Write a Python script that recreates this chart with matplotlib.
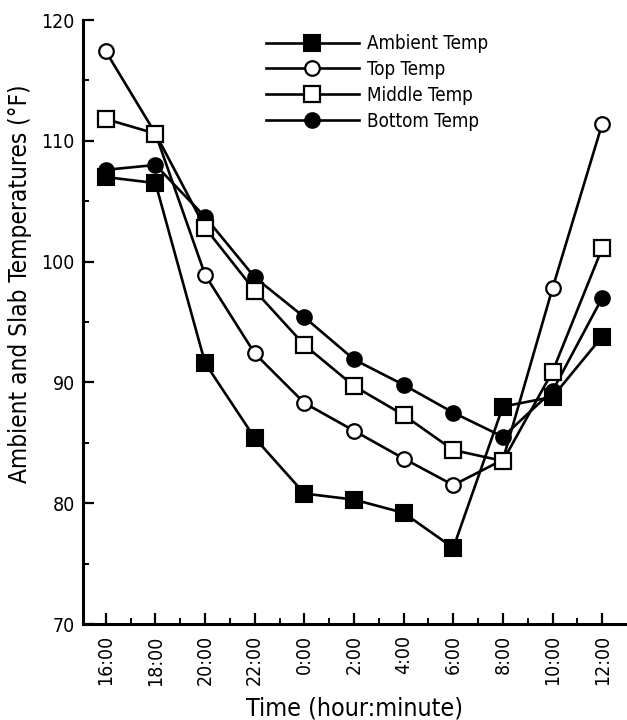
import matplotlib
matplotlib.use("Agg")
import matplotlib.pyplot as plt
import numpy as np
from matplotlib.ticker import FixedLocator

plt.rcParams['font.family'] = ['DejaVu Sans']
plt.rcParams['font.stretch'] = 'condensed'

# 測定時刻と温度 (°F)
times = ["16:00", "18:00", "20:00", "22:00", "0:00", "2:00",
         "4:00", "6:00", "8:00", "10:00", "12:00"]
ambient = [107.0, 106.5, 91.6, 85.4, 80.8, 80.3, 79.2, 76.3, 88.0, 88.8, 93.8]
top     = [117.4, 110.6, 98.9, 92.4, 88.3, 86.0, 83.7, 81.5, 83.6, 97.8, 111.4]
middle  = [111.8, 110.6, 102.8, 97.6, 93.1, 89.7, 87.3, 84.4, 83.5, 90.9, 101.1]
bottom  = [107.6, 108.0, 103.7, 98.7, 95.4, 91.9, 89.8, 87.5, 85.5, 89.3, 97.0]

fig = plt.figure(figsize=(6.27, 7.2), dpi=100)
ax = fig.add_axes([0.1324, 0.1333, 0.8676, 0.8389])

x = np.arange(len(times))
lw = 1.9
ax.plot(x, ambient, color='black', lw=lw, marker='s', ms=11.5,
        mfc='black', mec='black', mew=1.5, label='Ambient Temp', zorder=3)
ax.plot(x, top, color='black', lw=lw, marker='o', ms=10.5,
        mfc='white', mec='black', mew=1.6, label='Top Temp', zorder=4)
ax.plot(x, middle, color='black', lw=lw, marker='s', ms=11.5,
        mfc='white', mec='black', mew=1.6, label='Middle Temp', zorder=4)
ax.plot(x, bottom, color='black', lw=lw, marker='o', ms=10.5,
        mfc='black', mec='black', mew=1.5, label='Bottom Temp', zorder=3)

ax.set_xlim(-0.46, 10.5)
ax.set_ylim(70, 120)
ax.set_xticks(x)
ax.set_xticklabels(times, rotation=90, fontsize=14)
ax.xaxis.set_minor_locator(FixedLocator(x[:-1] + 0.5))
ax.set_yticks([70, 80, 90, 100, 110, 120])
ax.yaxis.set_minor_locator(FixedLocator([75, 85, 95, 105, 115]))
ax.tick_params(axis='both', which='major', direction='in', length=8,
               width=1.6, labelsize=14)
ax.tick_params(axis='both', which='minor', direction='in', length=4,
               width=1.4)
ax.tick_params(axis='x', pad=8)
ax.tick_params(axis='y', pad=6)

for s in ['top', 'right']:
    ax.spines[s].set_visible(False)
for s in ['left', 'bottom']:
    ax.spines[s].set_linewidth(2.2)

ax.set_xlabel("Time (hour:minute)", fontsize=18)
ax.xaxis.set_label_coords(0.5, -0.12)
ax.set_ylabel("Ambient and Slab Temperatures (°F)", fontsize=17.5)
ax.yaxis.set_label_coords(-0.094, 0.563)

leg = ax.legend(loc='upper left', bbox_to_anchor=(0.315, 0.995), frameon=False,
                fontsize=13.5, handlelength=5.0, handletextpad=0.4,
                labelspacing=0.36, borderaxespad=0.2)

fig.savefig("out.png", dpi=100)
